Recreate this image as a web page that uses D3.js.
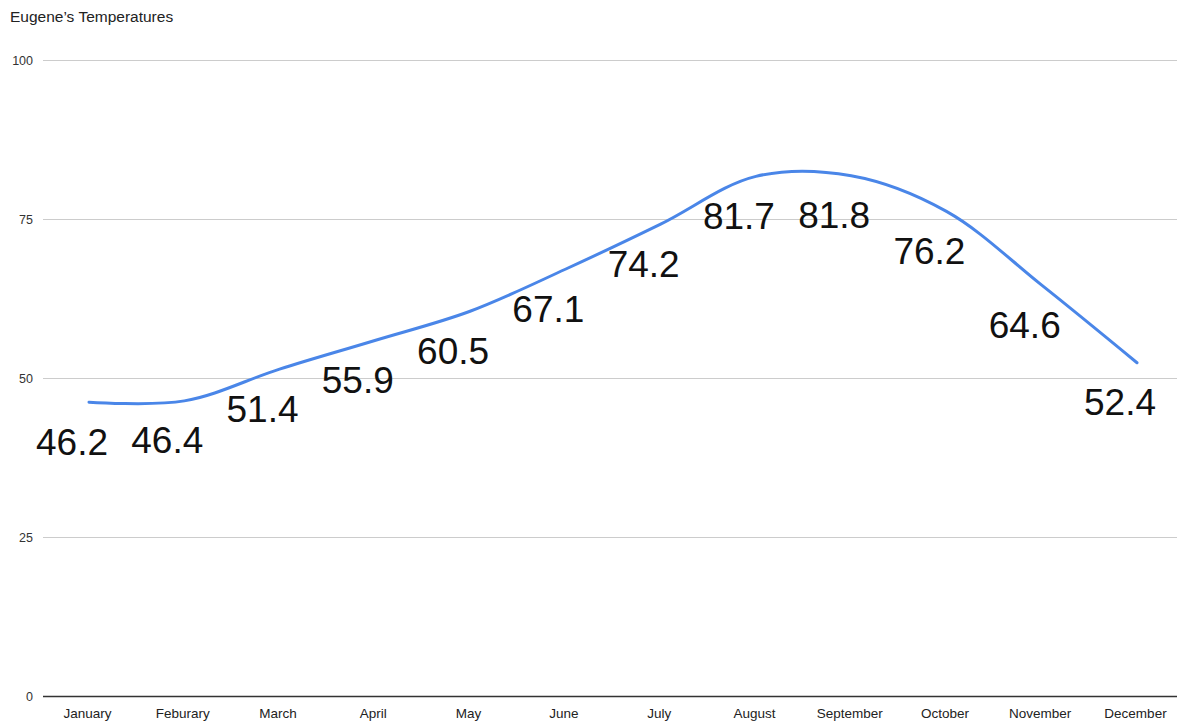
<!DOCTYPE html>
<html>
<head>
<meta charset="utf-8">
<script src="https://cdn.jsdelivr.net/npm/d3@7"></script>
<style>
  html, body { margin: 0; padding: 0; background: #fff; }
  svg { display: block; font-family: "Liberation Sans", Arial, sans-serif; }
</style>
</head>
<body>
<svg id="chart" width="1177" height="721"></svg>
<script>
const title = "Eugene\u2019s Temperatures";
const months = ["January","Feburary","March","April","May","June","July","August","September","October","November","December"];
const temps = [46.2, 46.4, 51.4, 55.9, 60.5, 67.1, 74.2, 81.7, 81.8, 76.2, 64.6, 52.4];
const yTicks = [0, 25, 50, 75, 100];

const svg = d3.select("#chart");
const plotLeft = 43, plotRight = 1177, plotTop = 60, plotBottom = 696;

const x = d3.scalePoint().domain(months).range([89, 1137]);
const y = d3.scaleLinear().domain([0, 100]).range([plotBottom, plotTop]);

// title
svg.append("text").attr("x", 10).attr("y", 22)
  .attr("font-size", 15.5).attr("fill", "#222").text(title);

// gridlines + y labels
const yAxis = d3.axisLeft(y).tickValues(yTicks).tickSize(-(plotRight - plotLeft)).tickPadding(10);
const gy = svg.append("g").attr("transform", `translate(${plotLeft},0)`).call(yAxis);
gy.select(".domain").remove();
gy.selectAll(".tick line").attr("stroke", "#cccccc").attr("stroke-width", 1);
gy.selectAll(".tick text").attr("font-size", 12.5).attr("fill", "#333")
  .attr("font-family", "Liberation Sans, Arial, sans-serif");
gy.selectAll(".tick").filter(d => d === 0).select("line").attr("stroke", "#333").attr("stroke-width", 1.5);

// x labels
const xAxis = d3.axisBottom(x).tickSize(0).tickPadding(12);
const gx = svg.append("g").attr("transform", `translate(-2,${plotBottom})`).call(xAxis);
gx.select(".domain").remove();
gx.selectAll(".tick text").attr("font-size", 13.5).attr("fill", "#222")
  .attr("font-family", "Liberation Sans, Arial, sans-serif");

// line
const line = d3.line()
  .x((d, i) => x(months[i]))
  .y(d => y(d))
  .curve(d3.curveCatmullRom.alpha(0.5));
svg.append("path").datum(temps)
  .attr("d", line)
  .attr("fill", "none")
  .attr("stroke", "#4a86e8")
  .attr("stroke-width", 3)
  .attr("stroke-linecap", "round");

// data labels
svg.append("g").selectAll("text").data(temps).join("text")
  .attr("x", (d, i) => x(months[i]) - 17)
  .attr("y", d => y(d) + 40)
  .attr("text-anchor", "middle")
  .attr("dominant-baseline", "central")
  .attr("font-size", 37)
  .attr("fill", "#111")
  .text(d => d.toFixed(1));
</script>
</body>
</html>
